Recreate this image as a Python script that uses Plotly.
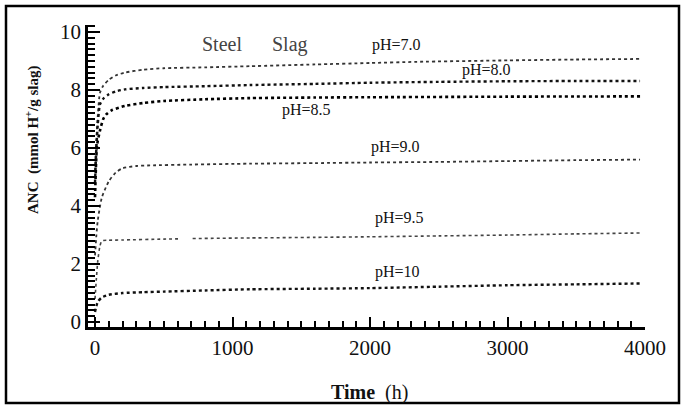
import plotly.graph_objects as go

# Time (h) and ANC (mmol H+/g slag) for each pH
t_ph70 = [0, 10, 20, 36, 60, 100, 150, 218, 350, 500, 800, 1127, 1600, 2000, 2340, 3000, 3500, 3964]
v_ph70 = [5.2, 6.3, 7.1, 7.9, 8.15, 8.35, 8.5, 8.6, 8.7, 8.75, 8.78, 8.82, 8.88, 8.93, 8.97, 9.02, 9.05, 9.07]

t_ph80 = [0, 10, 20, 36, 60, 100, 150, 218, 350, 500, 800, 1127, 1600, 2000, 2500, 3000, 3500, 3964]
v_ph80 = [4.8, 6.0, 6.8, 7.5, 7.7, 7.85, 7.95, 8.02, 8.07, 8.1, 8.13, 8.17, 8.21, 8.25, 8.28, 8.3, 8.31, 8.31]

t_ph85 = [0, 8, 15, 36, 60, 80, 120, 218, 350, 500, 800, 1127, 1600, 2000, 3000, 3964]
v_ph85 = [4.3, 5.5, 6.1, 6.6, 7.0, 7.15, 7.3, 7.45, 7.55, 7.62, 7.68, 7.72, 7.74, 7.75, 7.77, 7.78]

t_ph90 = [0, 10, 20, 50, 100, 150, 200, 300, 400, 700, 1127, 1600, 2000, 2500, 3000, 3500, 3964]
v_ph90 = [2.3, 3.0, 3.5, 4.3, 4.85, 5.15, 5.3, 5.38, 5.4, 5.43, 5.46, 5.48, 5.5, 5.52, 5.55, 5.58, 5.6]

t_ph95 = [0, 10, 20, 35, 50, 100, 200, 500, 620, None, 710, 1127, 1600, 2000, 2500, 3000, 3500, 3964]
v_ph95 = [0.8, 1.5, 2.1, 2.6, 2.8, 2.82, 2.83, 2.86, 2.87, None, 2.88, 2.9, 2.92, 2.94, 2.97, 3.0, 3.04, 3.07]

t_ph10 = [0, 10, 20, 50, 100, 200, 350, 500, 800, 1127, 1600, 2000, 2500, 3000, 3500, 3964]
v_ph10 = [0.35, 0.55, 0.7, 0.85, 0.94, 1.0, 1.03, 1.05, 1.09, 1.13, 1.15, 1.17, 1.22, 1.27, 1.3, 1.33]

series = [
    ("pH=7.0", t_ph70, v_ph70, 1.8, "#333"),
    ("pH=8.0", t_ph80, v_ph80, 2.4, "#111"),
    ("pH=8.5", t_ph85, v_ph85, 2.6, "#000"),
    ("pH=9.0", t_ph90, v_ph90, 1.8, "#333"),
    ("pH=9.5", t_ph95, v_ph95, 1.6, "#444"),
    ("pH=10", t_ph10, v_ph10, 2.4, "#111"),
]

label_text = ["pH=7.0", "pH=8.0", "pH=8.5", "pH=9.0", "pH=9.5", "pH=10"]
label_t = [2190, 2850, 1535, 2182, 2218, 2200]
label_v = [9.55, 8.69, 7.31, 6.03, 3.59, 1.72]

serif = "Liberation Serif"

fig = go.Figure()
for name, t, v, w, c in series:
    fig.add_trace(go.Scatter(x=t, y=v, mode="lines", name=name, connectgaps=False,
                             line=dict(color=c, width=w, dash="dot", shape="spline", smoothing=0.6),
                             showlegend=False))

for txt, tx, vy in zip(label_text, label_t, label_v):
    fig.add_annotation(x=tx, y=vy, text=txt, showarrow=False,
                       font=dict(family=serif, size=16, color="#111"))

fig.add_annotation(x=1164, y=9.57, text="Steel" + "&#160;" * 6 + "Slag",
                   showarrow=False, font=dict(family=serif, size=20, color="#444"))

fig.add_annotation(x=0.505, y=-(392 - 327) / 302, xref="paper", yref="paper", yanchor="middle",
                   text="<b>Time</b>&#160;&#160;(h)", showarrow=False,
                   font=dict(family=serif, size=20, color="#111"))

fig.add_annotation(x=(32 - 88) / 557, y=(327 - 140) / 302, xref="paper", yref="paper",
                   xanchor="center", yanchor="middle", textangle=-90,
                   text="<b>ANC&#160;&#160;(mmol H<sup>+</sup>/g slag)</b>",
                   showarrow=False, font=dict(family=serif, size=15, color="#111"))

fig.update_layout(
    width=684, height=406,
    margin=dict(l=88, r=39, t=25, b=79),
    paper_bgcolor="white", plot_bgcolor="white",
    font=dict(family=serif, size=18, color="#111"),
)

fig.update_xaxes(range=[-51, 4000], showgrid=False, zeroline=False,
                 showline=True, linecolor="black", linewidth=2.5,
                 ticks="inside", ticklen=10, tickwidth=2, tickcolor="black",
                 tickvals=[0, 1000, 2000, 3000, 4000],
                 ticktext=["0", "1000", "2000", "3000", "4000"],
                 minor=dict(dtick=100, tick0=0, ticks="inside", ticklen=6, tickwidth=2, tickcolor="black"),
                 tickfont=dict(family=serif, size=21, color="#111"))
fig.update_yaxes(range=[-0.17, 10.24], showgrid=False, zeroline=False,
                 showline=True, linecolor="black", linewidth=2.5,
                 ticks="inside", ticklen=12, tickwidth=2, tickcolor="black",
                 tickvals=[0, 2, 4, 6, 8, 10],
                 minor=dict(dtick=0.2, tick0=0, ticks="inside", ticklen=7, tickwidth=2, tickcolor="black"),
                 tickfont=dict(family=serif, size=21, color="#111"))

# outer frame
fig.add_shape(type="rect", xref="paper", yref="paper",
              x0=-(88 - 6) / 557, x1=(679 - 88) / 557,
              y0=-(403 - 327) / 302, y1=(327 - 6) / 302,
              line=dict(color="black", width=2.5))

fig.write_html("out.html")
